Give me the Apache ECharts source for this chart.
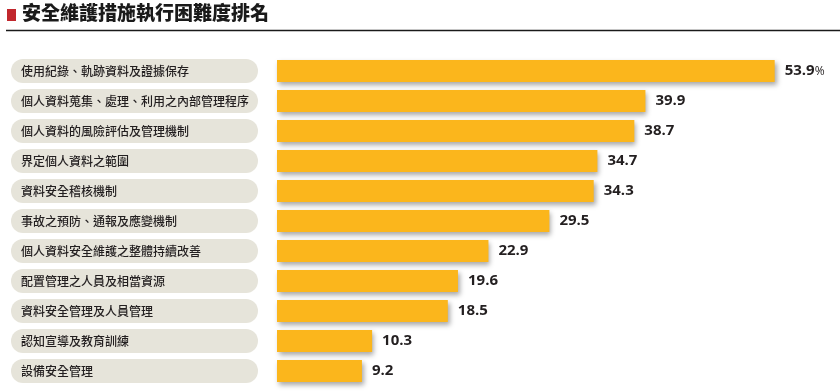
<!DOCTYPE html>
<html><head><meta charset="utf-8">
<script src="https://cdn.jsdelivr.net/npm/echarts@6/dist/echarts.min.js"></script>
<style>html,body{margin:0;padding:0;background:#fff}#c{width:840px;height:392px}</style>
</head><body><div id="c"></div>
<script>
const categories = ['使用紀錄、軌跡資料及證據保存','個人資料蒐集、處理、利用之內部管理程序','個人資料的風險評估及管理機制','界定個人資料之範圍','資料安全稽核機制','事故之預防、通報及應變機制','個人資料安全維護之整體持續改善','配置管理之人員及相當資源','資料安全管理及人員管理','認知宣導及教育訓練','設備安全管理'];
const values = [53.9,39.9,38.7,34.7,34.3,29.5,22.9,19.6,18.5,10.3,9.2];
const titleText = '安全維護措施執行困難度排名';

const chart = echarts.init(document.getElementById('c'));
const font = '"Noto Sans CJK TC","Noto Sans CJK SC",sans-serif';
chart.setOption({
  animation:false,
  backgroundColor:'#fff',
  graphic:[
    {type:'rect',shape:{x:7,y:9,width:9,height:12},style:{fill:'#c1272d'}},
    {type:'text',left:22,top:3,style:{text:titleText,fontSize:19,fontWeight:900,fill:'#1a1a1a',fontFamily:font}},
    {type:'line',shape:{x1:6,y1:30.5,x2:840,y2:30.5},style:{stroke:'#1a1a1a',lineWidth:1.5}}
  ],
  grid:{left:277,right:9,top:56,bottom:6,containLabel:false},
  xAxis:{type:'value',min:0,max:60,show:false},
  yAxis:{type:'category',data:categories,inverse:true,
    axisLine:{show:false},axisTick:{show:false},splitLine:{show:false},
    axisLabel:{margin:266,align:'left',width:227,overflow:'none',
      backgroundColor:'#e6e4da',borderRadius:12,padding:[5,10,5,10],lineHeight:14,height:14,
      color:'#231f20',fontSize:12,fontWeight:500,fontFamily:font,
      formatter:v=>v}
  },
  series:[{type:'bar',data:values,barWidth:22,
    itemStyle:{color:'#fbb61c',shadowColor:'rgba(0,0,0,0.35)',shadowBlur:5,shadowOffsetX:2,shadowOffsetY:3},
    label:{show:true,position:'right',distance:10,fontFamily:'"Open Sans","DejaVu Sans",sans-serif',
      formatter:p=>p.dataIndex===0?'{v|'+p.value+'}{p|%}':'{v|'+p.value+'}',
      rich:{v:{fontSize:15,fontWeight:'bold',color:'#231f20'},p:{fontSize:12,color:'#231f20',padding:[2,0,0,0]}}}
  }]
});
</script></body></html>
